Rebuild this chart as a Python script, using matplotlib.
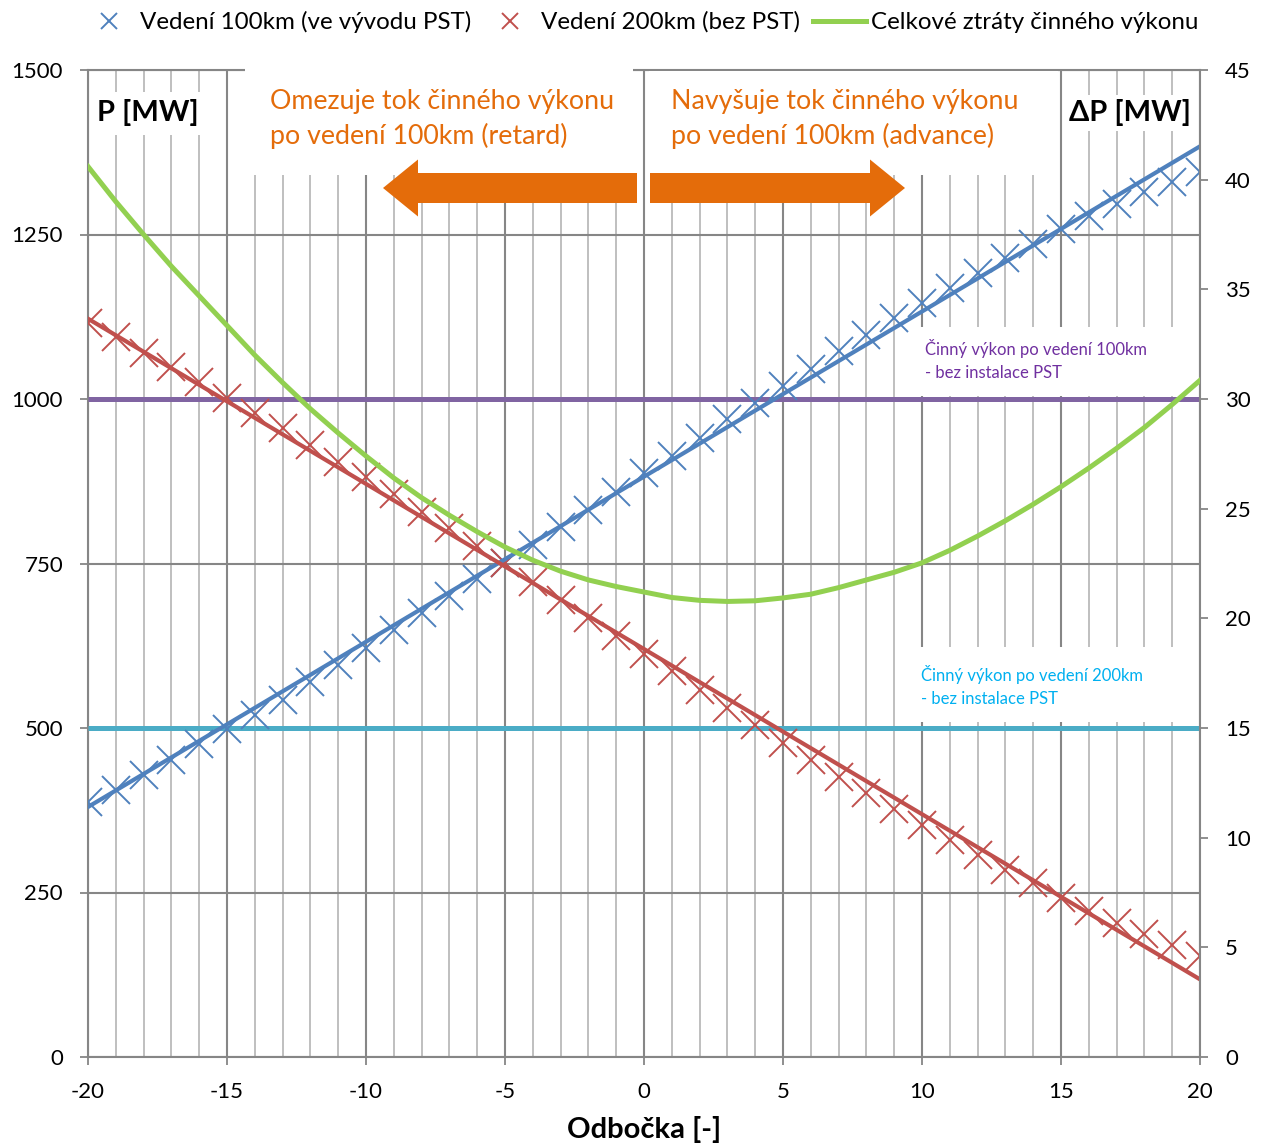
import numpy as np
import matplotlib
matplotlib.use("Agg")
import matplotlib.pyplot as plt
from matplotlib.patches import Rectangle, FancyArrow
from matplotlib.lines import Line2D

plt.rcParams['font.family'] = ['Lato', 'DejaVu Sans']
plt.rcParams['axes.unicode_minus'] = False

# ---------------- data ----------------
taps = list(range(-20, 21))
p_line100 = [387, 406, 428, 452, 475, 498, 520, 543, 570, 596, 621, 649, 675, 700, 726,
             751, 778, 805, 832, 859, 887, 913, 941, 969, 994, 1020, 1046, 1073, 1098, 1123,
             1146, 1169, 1192, 1214, 1236, 1258, 1278, 1297, 1314, 1330, 1345]
p_line200 = [1115, 1094, 1070, 1049, 1026, 1002, 979, 956, 930, 905, 881, 855, 828, 804, 776,
             751, 722, 695, 667, 640, 613, 586, 558, 530, 504, 477, 452, 426, 401, 377,
             353, 330, 307, 284, 264, 241, 222, 204, 187, 170, 154]
losses = [40.6, 39.0, 37.5, 36.05, 34.7, 33.35, 32.0, 30.75, 29.55, 28.45, 27.4, 26.4, 25.5,
          24.7, 23.95, 23.25, 22.65, 22.15, 21.75, 21.45, 21.2, 20.95, 20.82, 20.77, 20.8,
          20.93, 21.1, 21.4, 21.75, 22.1, 22.53, 23.1, 23.75, 24.45, 25.2, 26.0, 26.85,
          27.75, 28.7, 29.75, 30.85]
trend_x = [-20, 20]
trend100 = [380, 1384]
trend200 = [1122, 118]
ref_x = [-20, 20]
ref100 = [1000, 1000]
ref200 = [500, 500]

xticks = [-20, -15, -10, -5, 0, 5, 10, 15, 20]
yticks_left = [0, 250, 500, 750, 1000, 1250, 1500]
yticks_right = [0, 5, 10, 15, 20, 25, 30, 35, 40, 45]

labels = ['Vedení 100km (ve vývodu PST)', 'Vedení 200km (bez PST)', 'Celkové ztráty činného výkonu']

# ---------------- style ----------------
BLUE = '#4F81BD'
RED = '#C0504D'
GREEN = '#92D050'
PURPLE = '#8064A2'
CYAN = '#4BACC6'
ORANGE = '#E46C0A'
GRID_MAJ = '#868686'
GRID_MIN = '#BFBFBF'

W, H = 1269, 1146
L, R, T, B = 88, 1200, 70, 1057

fig = plt.figure(figsize=(W / 100, H / 100), dpi=100)
ax = fig.add_axes([L / W, 1 - B / H, (R - L) / W, (B - T) / H])
ax2 = ax.twinx()

ax.set_xlim(-20, 20)
ax.set_ylim(0, 1500)
ax2.set_ylim(0, 45)


def px2x(px):
    return -20 + (px - L) / (R - L) * 40


def py2y(py):
    return (B - py) / (B - T) * 1500


# grid
ax.set_axisbelow(True)
ax.set_xticks(xticks)
ax.set_xticks(taps, minor=True)
ax.set_yticks(yticks_left)
ax2.set_yticks(yticks_right)
ax.grid(which='minor', axis='x', color=GRID_MIN, lw=1.4, zorder=0.4)
ax.grid(which='major', axis='both', color=GRID_MAJ, lw=1.5, zorder=0.5)

for s in ['left', 'bottom', 'top']:
    ax.spines[s].set_color(GRID_MAJ)
    ax.spines[s].set_linewidth(1.5)
ax.spines['right'].set_visible(False)
for s in ['left', 'bottom', 'top']:
    ax2.spines[s].set_visible(False)
ax2.spines['right'].set_color(GRID_MAJ)
ax2.spines['right'].set_linewidth(1.5)

ax.tick_params(axis='both', which='major', length=6, width=1.3, color=GRID_MAJ,
               labelsize=16, pad=12)
ax.tick_params(axis='x', which='minor', length=0)
ax2.tick_params(axis='y', which='major', length=6, width=1.3, color=GRID_MAJ,
                labelsize=16, pad=12)

# white boxes hiding gridlines behind the texts
boxes = [
    (94, 92, 224, 135),      # P [MW]
    (245, 66, 633, 175),     # left orange text
    (649, 71, 1058, 175),    # right orange text
    (1063, 95, 1197, 131),   # dP [MW]
    (900, 327, 1197, 396),   # purple note
    (900, 647, 1197, 722),   # cyan note
]
for (x0, y0, x1, y1) in boxes:
    ax.add_patch(Rectangle((px2x(x0), py2y(y1)), px2x(x1) - px2x(x0), py2y(y0) - py2y(y1),
                           facecolor='white', edgecolor='none', zorder=2.6, clip_on=False))

# reference lines
ax.plot(ref_x, ref100, color=PURPLE, lw=3.6, zorder=3, solid_capstyle='butt')
ax.plot(ref_x, ref200, color=CYAN, lw=3.6, zorder=3, solid_capstyle='butt')

# series
ax.plot(taps, p_line100, ls='none', marker='x', ms=20, mew=1.4, color=BLUE, zorder=3.2)
ax.plot(taps, p_line200, ls='none', marker='x', ms=20, mew=1.4, color=RED, zorder=3.2)
ax.plot(trend_x, trend100, color=BLUE, lw=3.0, zorder=3.3)
ax.plot(trend_x, trend200, color=RED, lw=3.0, zorder=3.3)
ax2.plot(taps, losses, color=GREEN, lw=3.6, zorder=3)

# arrows
yc = py2y(188)
bw = py2y(173) - py2y(203)
hw = py2y(160) - py2y(217)
hl = px2x(418) - px2x(383)
ax.add_patch(FancyArrow(px2x(637), yc, px2x(383) - px2x(637), 0, width=bw, head_width=hw,
                        head_length=hl, length_includes_head=True, color=ORANGE, lw=0,
                        zorder=4))
ax.add_patch(FancyArrow(px2x(650), yc, px2x(905) - px2x(650), 0, width=bw, head_width=hw,
                        head_length=hl, length_includes_head=True, color=ORANGE, lw=0,
                        zorder=4))

# texts
ax.text(px2x(97), py2y(113), 'P [MW]', fontsize=21, fontweight='bold', ha='left',
        va='center', zorder=5)
ax.text(px2x(1191), py2y(113), 'ΔP [MW]', fontsize=21, fontweight='bold', ha='right',
        va='center', zorder=5)
ax.text(px2x(270), py2y(119), 'Omezuje tok činného výkonu\npo vedení 100km (retard)',
        fontsize=19.3, color=ORANGE, ha='left', va='center', linespacing=1.42, zorder=5)
ax.text(px2x(671), py2y(119), 'Navyšuje tok činného výkonu\npo vedení 100km (advance)',
        fontsize=19.3, color=ORANGE, ha='left', va='center', linespacing=1.42, zorder=5)
ax.text(px2x(925), py2y(360), 'Činný výkon po vedení 100km\n- bez instalace PST',
        fontsize=12, color='#7030A0', ha='left', va='center', linespacing=1.5, zorder=5)
ax.text(px2x(921), py2y(686), 'Činný výkon po vedení 200km\n- bez instalace PST',
        fontsize=12, color='#00B0F0', ha='left', va='center', linespacing=1.5, zorder=5)

ax.set_xlabel('Odbočka [-]', fontsize=21, fontweight='bold', labelpad=10)

# legend
handles = [
    Line2D([], [], ls='none', marker='x', ms=12, mew=1.4, color=BLUE),
    Line2D([], [], ls='none', marker='x', ms=12, mew=1.4, color=RED),
    Line2D([], [], color=GREEN, lw=3.6),
]
fig.legend(handles, labels, loc='center', bbox_to_anchor=(640 / W, 1 - 22 / H), ncol=3,
           frameon=False, fontsize=17.4, handlelength=2.2, handletextpad=0.2,
           columnspacing=0.5)

fig.savefig('out.png', dpi=100)
